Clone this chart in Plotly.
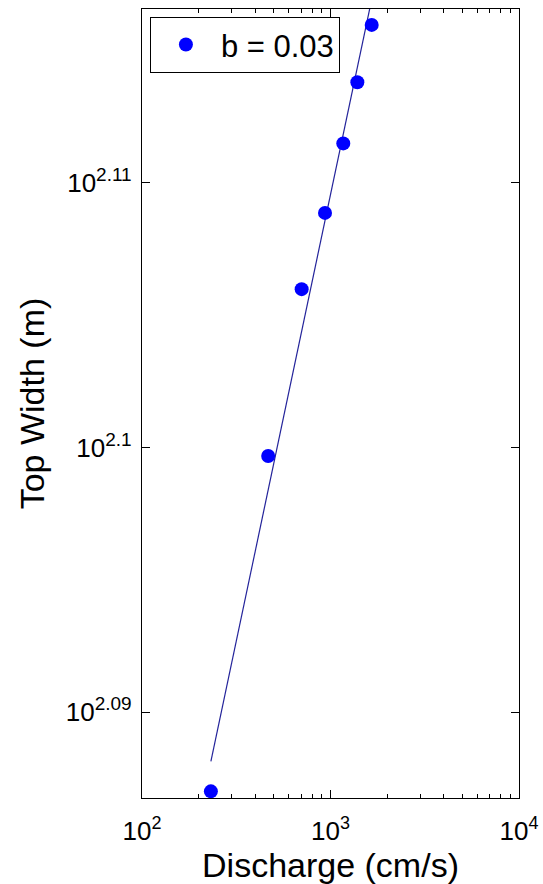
import plotly.graph_objects as go

# Data
discharge = [232, 467, 703, 935, 1169, 1388, 1654]          # cm/s
top_width = [122.18, 125.80, 127.64, 128.49, 129.27, 129.96, 130.61]  # m
fit_x = [232, 1654]
fit_y = [122.50, 130.90]
legend_label = "b = 0.03"

x_ticks = [100, 1000, 10000]
x_exp = ["2", "3", "4"]
x_minor = [m * d for d in (100, 1000) for m in range(2, 10)]
y_ticks = [10 ** 2.09, 10 ** 2.1, 10 ** 2.11]
y_exp = ["2.09", "2.1", "2.11"]
x_range_log = [2, 4]
y_range_log = [2.086749, 2.116578]

FONT = "Liberation Sans, Arial, sans-serif"


def pow_label(e, size):
    return "10<sup><span style='font-size:%dpx'>%s</span></sup>" % (size, e)


fig = go.Figure()
fig.add_trace(go.Scatter(
    x=fit_x, y=fit_y, mode="lines",
    line=dict(color="#23239a", width=1.2),
    showlegend=False, hoverinfo="skip",
))
fig.add_trace(go.Scatter(
    x=discharge, y=top_width, mode="markers",
    marker=dict(color="#0000ff", size=14, line=dict(width=0)),
    name=legend_label, cliponaxis=False,
))

axis_common = dict(
    type="log", showgrid=False, zeroline=False,
    showline=True, linecolor="black", linewidth=1.2, mirror="allticks",
    ticks="inside", ticklen=8, tickwidth=1, tickcolor="black",
    tickfont=dict(family=FONT, size=26, color="black"),
)

fig.update_xaxes(
    **axis_common, range=x_range_log,
    tickmode="array", tickvals=x_ticks,
    ticktext=[pow_label(e, 18) for e in x_exp],
    ticklabelstandoff=10,
    minor=dict(ticks="inside", ticklen=4, tickcolor="black", tickwidth=1,
               tickvals=x_minor, showgrid=False),
    title=dict(text="Discharge (cm/s)", font=dict(family=FONT, size=34, color="black"),
               standoff=8),
)
fig.update_yaxes(
    **axis_common, range=y_range_log,
    tickmode="array", tickvals=y_ticks,
    ticktext=[pow_label(e, 19) for e in y_exp],
    ticklabelstandoff=4,
    title=dict(text="Top Width (m)", font=dict(family=FONT, size=34, color="black"),
               standoff=10),
)

fig.update_layout(
    width=543, height=884,
    margin=dict(l=142, r=24, t=9, b=86, autoexpand=False),
    paper_bgcolor="white", plot_bgcolor="white",
    legend=dict(
        x=0.021, y=0.99, xanchor="left", yanchor="top",
        bgcolor="white", bordercolor="black", borderwidth=1,
        font=dict(family=FONT, size=31, color="black"),
        itemwidth=60, tracegroupgap=0,
    ),
    showlegend=True,
)

fig.write_html("out.html")
